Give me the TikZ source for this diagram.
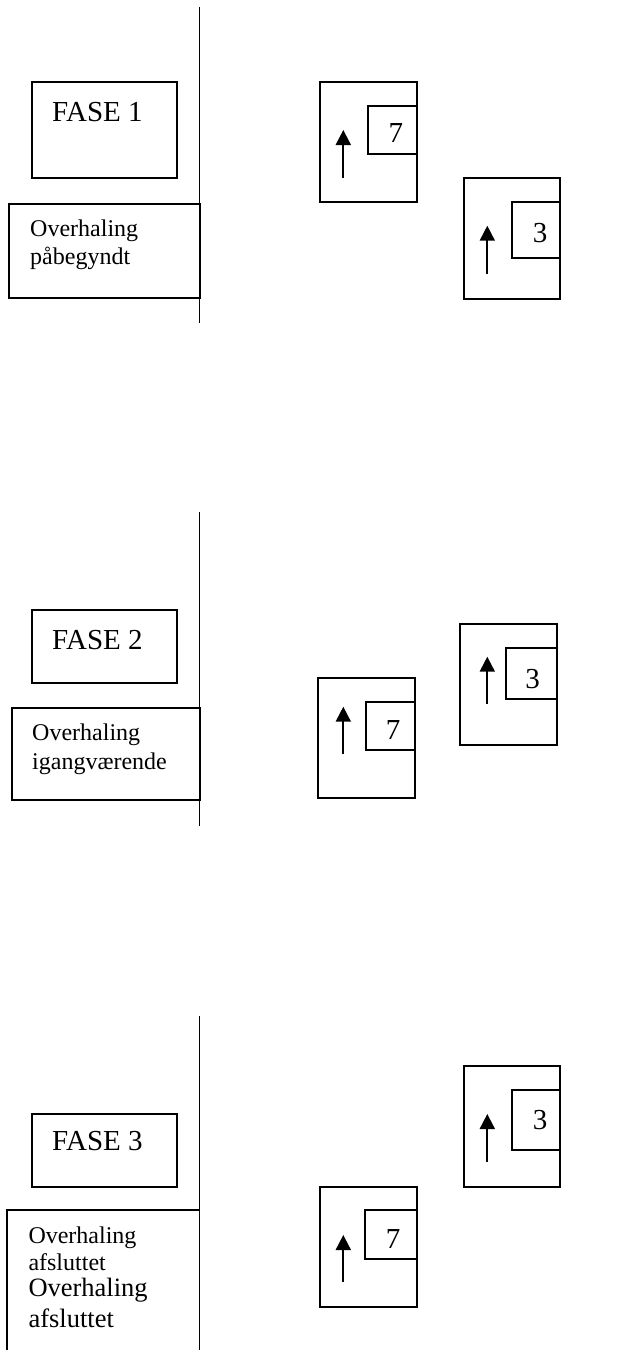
\documentclass[tikz,border=0pt]{standalone}
\usepackage{fontspec}
\setmainfont{Liberation Serif}
\usetikzlibrary{arrows.meta}
\tikzset{
  x=1pt, y=-1pt,
  ln/.style={line width=1.9pt, line cap=rect},
  frame/.style={draw, line width=1.9pt, rectangle, inner sep=0pt, anchor=north west},
  big/.style={inner sep=0pt, font=\fontsize{29}{33}\selectfont},
  small/.style={inner sep=0pt, anchor=base west, font=\fontsize{24}{27}\selectfont},
  mid/.style={inner sep=0pt, anchor=base west, font=\fontsize{26.5}{30}\selectfont},
  uparrow/.style={line width=1.9pt, -{Triangle[width=15pt,length=15pt]}}
}
\newcommand{\bx}[5]{% name, x1, y1, x2, y2
  \node[frame, minimum width={#4-#2}, minimum height={#5-#3}] (#1) at (#2,#3) {};}
\begin{document}
\begin{tikzpicture}
\useasboundingbox (0,0) rectangle (625,1350);

% ---------- Phase 1 ----------
\coordinate (v1a) at (199.5,8);
\coordinate (v1b) at (199.5,322);
\draw[ln] (v1a) -- (v1b);
\bx{f1}{31}{81}{176}{177}
\node[big, anchor=base west] (f1t) at (52,121) {FASE 1};
\bx{o1}{8}{203}{199.5}{297}
\node[small] (o1a) at (30,236.7) {Overhaling};
\node[small] (o1b) at (30,264) {påbegyndt};

\bx{c7a}{319}{81}{415.7}{201}
\bx{c7ai}{367.3}{104.7}{415.7}{153}
\node[big, anchor=base] (n7a) at (395.8,142.7) {7};
\coordinate (a7a1) at (343.3,177.7);
\coordinate (a7a2) at (343.3,130);
\draw[uparrow] (a7a1) -- (a7a2);

\bx{c3a}{462.7}{176.7}{559.3}{298}
\bx{c3ai}{511}{201}{559.3}{257.3}
\node[big, anchor=base] (n3a) at (540,242.5) {3};
\coordinate (a3a1) at (487.3,274);
\coordinate (a3a2) at (487.3,225.7);
\draw[uparrow] (a3a1) -- (a3a2);

% ---------- Phase 2 ----------
\coordinate (v2a) at (199.5,513);
\coordinate (v2b) at (199.5,825);
\draw[ln] (v2a) -- (v2b);
\bx{f2}{31}{609}{176}{681.7}
\node[big, anchor=base west] (f2t) at (52,649) {FASE 2};
\bx{o2}{11}{707.3}{199.5}{798.7}
\node[small] (o2a) at (32,740) {Overhaling};
\node[small] (o2b) at (32,769) {igangværende};

\bx{c7b}{317.3}{677}{413.7}{797.3}
\bx{c7bi}{365}{701}{413.7}{749.3}
\node[big, anchor=base] (n7b) at (393,739.5) {7};
\coordinate (a7b1) at (343.3,754);
\coordinate (a7b2) at (343.3,706.7);
\draw[uparrow] (a7b1) -- (a7b2);

\bx{c3b}{459.3}{623.3}{556}{744}
\bx{c3bi}{504.7}{647.3}{556}{697.7}
\node[big, anchor=base] (n3b) at (532.7,688) {3};
\coordinate (a3b1) at (487.3,704.3);
\coordinate (a3b2) at (487.3,656.7);
\draw[uparrow] (a3b1) -- (a3b2);

% ---------- Phase 3 ----------
\coordinate (v3a) at (199.5,1017);
\coordinate (v3b) at (199.5,1350);
\draw[ln] (v3a) -- (v3b);
\bx{f3}{31}{1113.3}{175.7}{1185.7}
\node[big, anchor=base west] (f3t) at (52,1150) {FASE 3};
\coordinate (o3bl) at (7.3,1350);
\coordinate (o3tl) at (7.3,1210);
\coordinate (o3tr) at (199.5,1210);
\draw[ln, line cap=butt] (o3bl) -- (o3tl) -- (o3tr);
\node[small] (o3a) at (28.3,1243.3) {Overhaling};
\node[small] (o3b) at (28.3,1270) {afsluttet};
\node[mid] (o3c) at (28.3,1296.7) {Overhaling};
\node[mid] (o3d) at (28.3,1327) {afsluttet};

\bx{c3c}{462.7}{1065}{559.3}{1185.7}
\bx{c3ci}{511}{1089.3}{559.3}{1149.3}
\node[big, anchor=base] (n3c) at (540,1129.5) {3};
\coordinate (a3c1) at (487.3,1161.7);
\coordinate (a3c2) at (487.3,1114);
\draw[uparrow] (a3c1) -- (a3c2);

\bx{c7c}{319}{1185.7}{415.7}{1305.7}
\bx{c7ci}{364.3}{1209}{415.7}{1257.7}
\node[big, anchor=base] (n7c) at (393,1248) {7};
\coordinate (a7c1) at (343.3,1281.7);
\coordinate (a7c2) at (343.3,1235);
\draw[uparrow] (a7c1) -- (a7c2);
\end{tikzpicture}
\end{document}
